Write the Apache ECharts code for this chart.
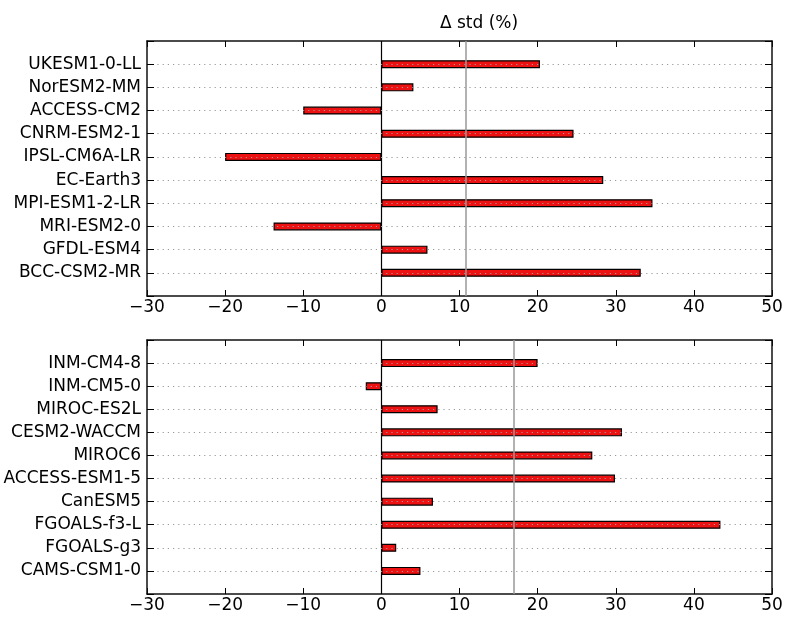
<!DOCTYPE html>
<html>
<head>
<meta charset="utf-8">
<script src="https://cdn.jsdelivr.net/npm/echarts@6/dist/echarts.min.js"></script>
<style>html,body{margin:0;padding:0;background:#fff;}#c{width:788px;height:617px;}</style>
</head>
<body>
<div id="c"></div>
<script>
// Data (bottom-to-top order, as in the plot)
var topModels = ['BCC-CSM2-MR','GFDL-ESM4','MRI-ESM2-0','MPI-ESM1-2-LR','EC-Earth3','IPSL-CM6A-LR','CNRM-ESM2-1','ACCESS-CM2','NorESM2-MM','UKESM1-0-LL'];
var topValues = [33.2, 5.9, -13.8, 34.7, 28.4, -20.0, 24.6, -10.0, 4.1, 20.3];
var bottomModels = ['CAMS-CSM1-0','FGOALS-g3','FGOALS-f3-L','CanESM5','ACCESS-ESM1-5','MIROC6','CESM2-WACCM','MIROC-ES2L','INM-CM5-0','INM-CM4-8'];
var bottomValues = [5.0, 1.9, 43.4, 6.6, 29.9, 27.0, 30.8, 7.2, -2.0, 20.0];
var xTicks = [-30, -20, -10, 0, 10, 20, 30, 40, 50];
var titleText = '\u0394 std (%)';

function mean(a){ var s=0; a.forEach(function(v){s+=v;}); return s/a.length; }
function pad(a, fill){ return [fill].concat(a, [fill]); }

var FONT = 'DejaVu Sans';
var FS = 17;
var FRAME = {color:'#111', width:1.5};
var chart = echarts.init(document.getElementById('c'), null, {renderer:'canvas'});

var grids = [
  {left:147, top:41, width:625, height:255},
  {left:147, top:340, width:625, height:254}
];

var xAxes = [], yAxes = [], series = [];
[ [topModels, topValues], [bottomModels, bottomValues] ].forEach(function(p, gi){
  var cats = pad(p[0], '');
  var vals = pad(p[1], null);
  var n = cats.length;
  xAxes.push({
    type:'value', gridIndex:gi, min:xTicks[0], max:xTicks[xTicks.length-1], interval:10,
    position:'bottom',
    axisLine:{show:true, onZero:false, lineStyle:FRAME},
    axisTick:{show:true, inside:true, length:6, lineStyle:{color:'#000'}},
    axisLabel:{show:true, color:'#000', fontFamily:FONT, fontSize:FS, margin:3,
      formatter:function(v){ return v<0 ? '\u2212'+Math.abs(v) : String(v); }},
    splitLine:{show:false}
  });
  xAxes.push({
    type:'value', gridIndex:gi, min:xTicks[0], max:xTicks[xTicks.length-1], interval:10,
    position:'top',
    axisLine:{show:true, onZero:false, lineStyle:FRAME},
    axisTick:{show:true, inside:true, length:6, lineStyle:{color:'#000'}},
    axisLabel:{show:false}, splitLine:{show:false}
  });
  yAxes.push({
    type:'category', gridIndex:gi, data:cats, boundaryGap:false, position:'left', z:10,
    axisLine:{show:true, onZero:false, lineStyle:FRAME},
    axisTick:{show:true, inside:true, length:7, interval:0, lineStyle:{color:'#000'}},
    axisLabel:{show:true, interval:0, color:'#000', fontFamily:FONT, fontSize:FS, margin:6},
    splitLine:{show:true, interval:function(i){ return i>0 && i<n-1; },
      lineStyle:{color:'#999', type:[1.2,4], width:1.2}}
  });
  yAxes.push({
    type:'category', gridIndex:gi, data:cats, boundaryGap:false, position:'right', z:10,
    axisLine:{show:true, onZero:false, lineStyle:FRAME},
    axisTick:{show:true, inside:true, length:7, interval:0, lineStyle:{color:'#000'}},
    axisLabel:{show:false}, splitLine:{show:false}
  });
  series.push({
    type:'bar', xAxisIndex:gi*2, yAxisIndex:gi*2, data:vals, barWidth:8,
    itemStyle:{color:'#ee1111', borderColor:'#000', borderWidth:1.2},
    silent:true, z:2,
    markLine:{
      silent:true, symbol:'none', label:{show:false}, animation:false,
      data:[
        {xAxis:0, lineStyle:{color:'#000', width:1.2, type:'solid'}},
        {xAxis:mean(p[1]), lineStyle:{color:'#999', width:1.5, type:'solid'}}
      ]
    }
  });
});

chart.setOption({
  animation:false,
  backgroundColor:'#fff',
  title:{text:titleText, left:474, top:10, textAlign:'center',
    textStyle:{fontFamily:FONT, fontSize:FS, fontWeight:'normal', color:'#000'}},
  grid:grids,
  xAxis:xAxes,
  yAxis:yAxes,
  series:series
});
</script>
</body>
</html>
